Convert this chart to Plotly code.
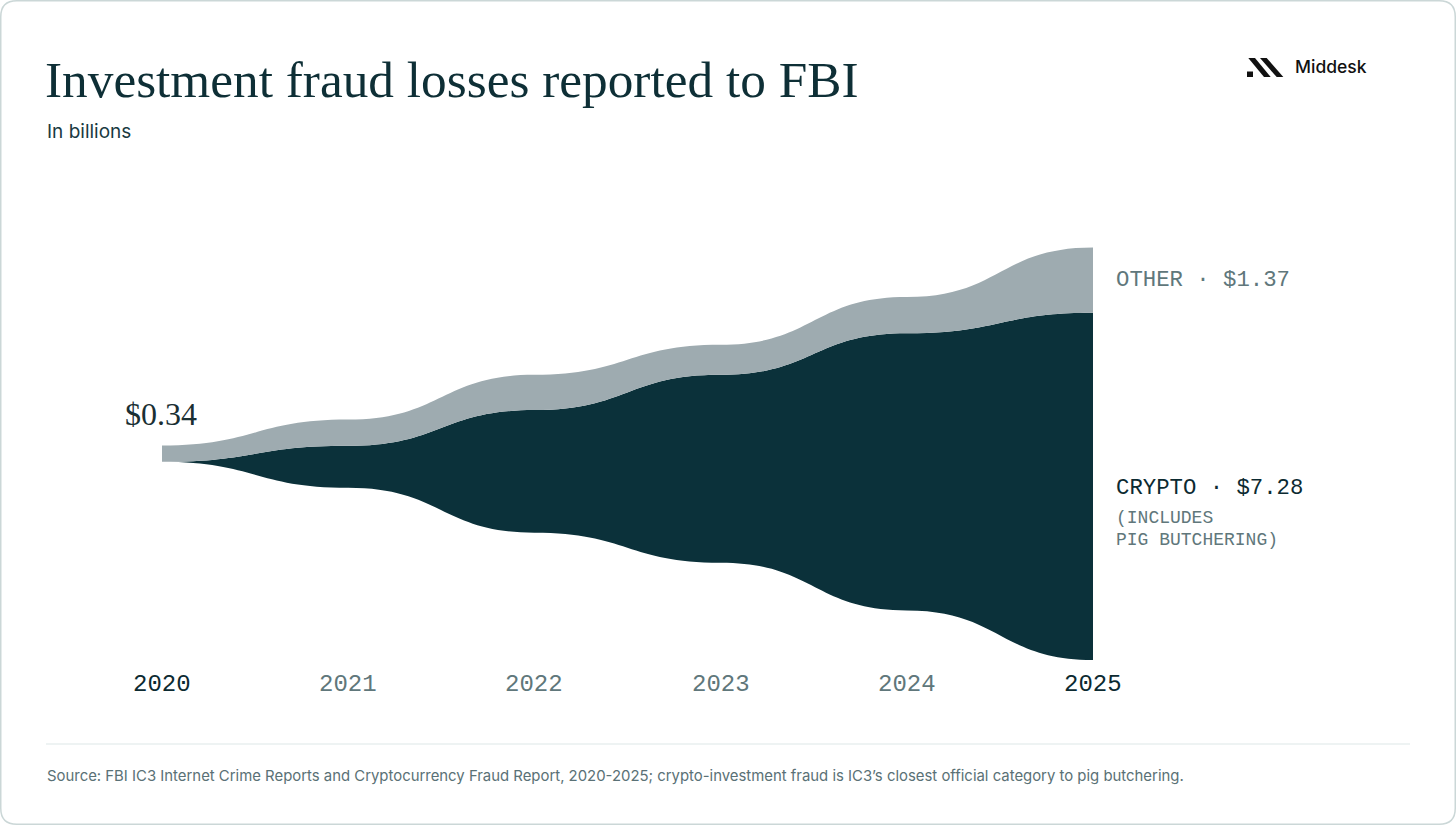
import plotly.graph_objects as go

# values in billions USD
years = [2020, 2021, 2022, 2023, 2024, 2025]
crypto = [0.0, 0.88, 2.57, 3.94, 5.81, 7.28]
other = [0.34, 0.55, 0.74, 0.63, 0.76, 1.37]
year_labels = ["2020", "2021", "2022", "2023", "2024", "2025"]

DARK = "#0b313a"
GREY = "#9eabb0"
INK = "#0c2a31"
MUTED = "#60777b"

W, H = 1456, 825


def px(x):
    return x / W


def py(y):
    return 1 - y / H


# silhouette (centered) stacking: crypto at the bottom, other on top
totals = [c + o for c, o in zip(crypto, other)]
bottom = [-t / 2 for t in totals]
mid = [b + c for b, c in zip(bottom, crypto)]
top = [m + o for m, o in zip(mid, other)]


def bump(xs, ys):
    # cubic segments with horizontal tangents at each year
    seg = ""
    for i in range(1, len(xs)):
        cx = (xs[i - 1] + xs[i]) / 2
        seg += f" C {cx:.4f},{ys[i-1]:.4f} {cx:.4f},{ys[i]:.4f} {xs[i]:.4f},{ys[i]:.4f}"
    return seg


def band(lo, hi):
    rx = years[::-1]
    return (f"M {years[0]},{lo[0]:.4f}" + bump(years, lo) +
            f" L {years[-1]},{hi[-1]:.4f}" + bump(rx, hi[::-1]) + " Z")


fig = go.Figure()
fig.add_trace(go.Scatter(x=years, y=top, mode="lines", line=dict(width=0),
                         hoverinfo="skip", showlegend=False))
fig.add_trace(go.Scatter(x=years, y=bottom, mode="lines", line=dict(width=0),
                         hoverinfo="skip", showlegend=False))

shapes = [
    dict(type="path", xref="x", yref="y", path=band(bottom, mid),
         fillcolor=DARK, line=dict(width=0), layer="below"),
    dict(type="path", xref="x", yref="y", path=band(mid, top),
         fillcolor=GREY, line=dict(width=0), layer="below"),
    # divider above the source note
    dict(type="line", xref="paper", yref="paper", x0=px(46), x1=px(1410),
         y0=py(744), y1=py(744), line=dict(color="#dde7e7", width=1)),
    # logo mark
    dict(type="rect", xref="paper", yref="paper", x0=px(1247), x1=px(1253),
         y0=py(77), y1=py(71.5), fillcolor="#111", line=dict(width=0)),
    dict(type="path", xref="paper", yref="paper",
         path=f"M {px(1248.3)},{py(58)} L {px(1255)},{py(58)} L {px(1270.7)},{py(77)} L {px(1264)},{py(77)} Z",
         fillcolor="#111", line=dict(width=0)),
    dict(type="path", xref="paper", yref="paper",
         path=f"M {px(1260)},{py(58)} L {px(1266.7)},{py(58)} L {px(1283.3)},{py(77)} L {px(1276.7)},{py(77)} Z",
         fillcolor="#111", line=dict(width=0)),
]

# rounded outer frame
r = 16
x0, y0, x1, y1 = 0.75, 0.75, W - 0.75, H - 0.75
frame = (f"M {px(x0+r)},{py(y0)} L {px(x1-r)},{py(y0)} Q {px(x1)},{py(y0)} {px(x1)},{py(y0+r)} "
         f"L {px(x1)},{py(y1-r)} Q {px(x1)},{py(y1)} {px(x1-r)},{py(y1)} "
         f"L {px(x0+r)},{py(y1)} Q {px(x0)},{py(y1)} {px(x0)},{py(y1-r)} "
         f"L {px(x0)},{py(y0+r)} Q {px(x0)},{py(y0)} {px(x0+r)},{py(y0)} Z")
shapes.append(dict(type="path", xref="paper", yref="paper", path=frame,
                   line=dict(color="#cbd7d7", width=1.5)))

ann = []


def text(x, y, s, size, color, family, anchor="left", weight=None, xref="paper"):
    f = dict(size=size, color=color, family=family)
    if weight:
        f["weight"] = weight
    ann.append(dict(x=x, y=py(y), xref=xref, yref="paper", text=s, showarrow=False,
                    xanchor=anchor, yanchor="middle", font=f))


text(px(43), 80, "Investment fraud losses reported to FBI", 51.3, "#0e2f36", "Liberation Serif")
text(px(45), 131, "In billions", 19, "#1a3a41", "Inter")
text(px(1293), 67, "Middesk", 17.5, "#111111", "Inter", weight=500)

text(px(123), 414, f"${totals[0]:.2f}", 32, "#1a2f33", "Liberation Serif")

text(px(1114), 280, f"OTHER · ${other[-1]:.2f}", 22.3, MUTED, "Liberation Mono")
text(px(1114), 488, f"CRYPTO · ${crypto[-1]:.2f}", 22.3, INK, "Liberation Mono")
text(px(1114), 518, "(INCLUDES", 18, MUTED, "Liberation Mono")
text(px(1114), 540, "PIG BUTCHERING)", 18, MUTED, "Liberation Mono")

for i, (yr, lab) in enumerate(zip(years, year_labels)):
    c = INK if i in (0, len(years) - 1) else MUTED
    text(yr, 684, lab, 24, c, "Liberation Mono", anchor="center", xref="x")

text(px(45), 776, "Source: FBI IC3 Internet Crime Reports and Cryptocurrency Fraud Report, 2020-2025; "
     "crypto-investment fraud is IC3’s closest official category to pig butchering.",
     14.9, "#5a7176", "Inter")

# axis ranges chosen so 2020 sits at x=162px, 2025 at 1093px, zero line at y=454px
ppx = (1093 - 162) / 5
ppb = 47.7
fig.update_layout(
    width=W, height=H,
    margin=dict(l=0, r=0, t=0, b=0),
    paper_bgcolor="white",
    plot_bgcolor="white",
    showlegend=False,
    xaxis=dict(range=[2020 - 162 / ppx, 2020 + (W - 162) / ppx], visible=False, fixedrange=True),
    yaxis=dict(range=[-(H - 453.7) / ppb, 453.7 / ppb], visible=False, fixedrange=True),
    shapes=shapes,
    annotations=ann,
)

fig.write_html("out.html", config={"displayModeBar": False},
               post_script="document.body.style.margin='0';document.body.style.overflow='hidden';")
